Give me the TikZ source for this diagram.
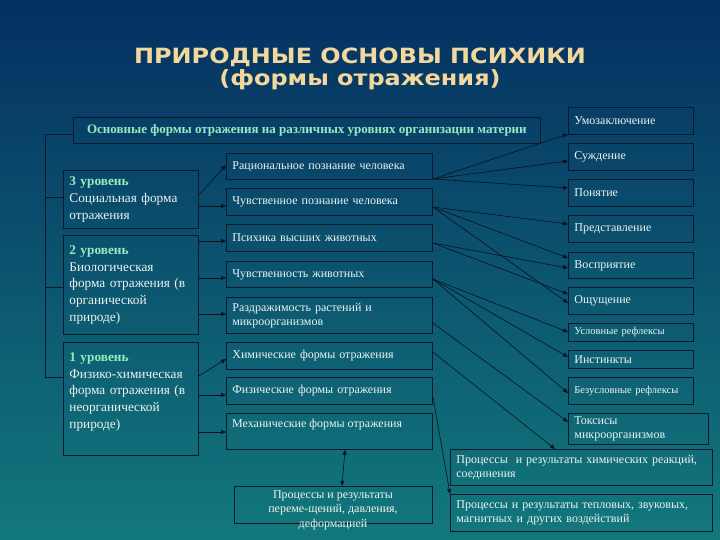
\documentclass[tikz,border=0pt]{standalone}
\usepackage{fontspec}
\setmainfont{Liberation Serif}
\newfontfamily\titlefont{DejaVu Sans}
\usetikzlibrary{arrows.meta}
\definecolor{bgtop}{RGB}{5,48,98}
\definecolor{bgmid}{RGB}{13,86,116}
\definecolor{bgbot}{RGB}{18,120,124}
\definecolor{titlec}{RGB}{242,216,156}
\definecolor{greenc}{RGB}{150,236,190}
\definecolor{txtc}{RGB}{236,244,240}
\definecolor{boxc}{RGB}{14,24,44}
\definecolor{linec}{RGB}{10,16,30}
\newcommand{\lvlhead}[1]{{\color{greenc}\bfseries #1}}
\begin{document}
\begin{tikzpicture}[x=1pt,y=-1pt,
  box/.style={draw=boxc, line width=0.8pt, anchor=north west, inner xsep=6pt, inner ysep=0pt,
    text=txtc, align=left, font=\fontsize{12}{14}\selectfont},
  mbox/.style={box, text width=194pt},
  rbox/.style={box, text width=113pt},
  lbox/.style={box, inner xsep=6pt, text width=123pt, font=\fontsize{13.3}{16.8}\selectfont},
  conn/.style={draw=linec, line width=0.6pt, -{Triangle[length=5pt,width=4pt]}},
  link/.style={draw=boxc, line width=0.8pt}]
\useasboundingbox (0,0) rectangle (720,540);
\shade[top color=bgtop, middle color=bgmid, bottom color=bgbot] (0,0) rectangle (720,540);

% title
\node[text=titlec, align=center, font=\titlefont\bfseries\fontsize{21}{22.5}\selectfont] (T) at (360,69)
  {\scalebox{1.14}[1]{ПРИРОДНЫЕ ОСНОВЫ ПСИХИКИ}\\\scalebox{1.14}[1]{(формы отражения)}};

% top box
\node[box, align=center, text=greenc, font=\bfseries\fontsize{13}{15}\selectfont,
  minimum width=467pt, minimum height=26pt] (top) at (73,117)
  {Основные формы отражения на различных уровнях организации материи};

% left boxes
\node[lbox, minimum height=58pt] (L3) at (63,170)
  {\lvlhead{3 уровень}\\Социальная форма\\отражения};
\node[lbox, minimum height=99pt] (L2) at (63,235)
  {\lvlhead{2 уровень}\\Биологическая\\форма отражения (в\\органической\\природе)};
\node[lbox, minimum height=113pt] (L1) at (63,342)
  {\lvlhead{1 уровень}\\Физико-химическая\\форма отражения (в\\неорганической\\природе)\\\mbox{}};

% middle boxes
\node[mbox, minimum height=26pt] (R) at (226,153) {Рациональное познание человека};
\node[mbox, minimum height=27pt] (Ch) at (226,188) {Чувственное познание человека};
\node[mbox, minimum height=27pt] (Ps) at (226,224) {Психика высших животных};
\node[mbox, minimum height=26pt] (CA) at (226,261) {Чувственность животных};
\node[mbox, minimum height=36pt] (Rz) at (226,297) {Раздражимость растений и\\микроорганизмов};
\node[mbox, minimum height=27pt] (Him) at (226,342) {Химические формы отражения};
\node[mbox, minimum height=27pt] (Fiz) at (226,377) {Физические формы отражения};
\node[mbox, minimum height=36pt] (Meh) at (226,413) {};
\node[anchor=west, inner sep=0pt, text=txtc, font=\fontsize{12}{14}\selectfont] (MehT) at (232,425)
  {Механические формы отражения};

% right boxes
\node[rbox, minimum height=27pt] (Um) at (568,107) {Умозаключение};
\node[rbox, minimum height=27pt] (Su) at (568,143) {Суждение};
\node[rbox, minimum height=27pt] (Po) at (568,179) {Понятие};
\node[rbox, minimum height=27pt] (Pr) at (568,215) {Представление};
\node[rbox, minimum height=26pt] (Vo) at (568,252) {Восприятие};
\node[rbox, minimum height=27pt] (Osh) at (568,287) {Ощущение};
\node[rbox, minimum height=18pt, font=\fontsize{10.5}{12}\selectfont] (Us) at (568,323) {Условные рефлексы};
\node[rbox, minimum height=18pt] (In) at (568,350) {Инстинкты};
\node[rbox, minimum height=27pt, font=\fontsize{10.5}{12}\selectfont] (Bz) at (568,377) {Безусловные рефлексы};
\node[box, text width=128pt, minimum height=31pt] (Tx) at (568,413) {Токсисы\\микроорганизмов};

% bottom boxes
\node[box, text width=250pt, minimum height=36pt] (PC) at (450,449)
  {Процессы\ \ и результаты химических реакций,\\соединения};
\node[box, text width=250pt, minimum height=37pt] (PT) at (450,494)
  {Процессы и результаты тепловых, звуковых,\\магнитных и других воздействий};
\node[box, minimum width=198pt, minimum height=37pt] (Pm) at (234,486) {};
\node[anchor=north, inner sep=0pt, align=center, text=txtc, font=\fontsize{12}{14.5}\selectfont] (PmT) at (333,490)
  {Процессы и результаты\\переме-щений, давления,\\деформацией};

% left bracket
\coordinate (bT) at (45,134);
\coordinate (b3) at (45,197);
\coordinate (b2) at (45,287);
\coordinate (b1) at (45,377);
\draw[link] (top.west |- bT) -- (bT) -- (b1) -- (L1.west |- b1);
\draw[link] (b3) -- (L3.west |- b3);
\draw[link] (b2) -- (L2.west |- b2);

% left arrows
\draw[conn] (L3.east |- 0,195) -- (R.west |- 0,165);
\draw[conn] (L3.east |- 0,206) -- (Ch.west |- 0,206);
\draw[conn] (L2.east |- 0,241) -- (Ps.west |- 0,241);
\draw[conn] (L2.east |- 0,278) -- (CA.west |- 0,278);
\draw[conn] (L2.east |- 0,314) -- (Rz.west |- 0,314);
\draw[conn] (L1.east |- 0,376) -- (Him.west |- 0,359);
\draw[conn] (L1.east |- 0,395) -- (Fiz.west |- 0,395);
\draw[conn] (L1.east |- 0,432) -- (Meh.west |- 0,432);

% middle to right
\draw[conn] (R.east |- 0,179) -- (Um.west |- 0,134);
\draw[conn] (R.east |- 0,179) -- (Su.west |- 0,161);
\draw[conn] (R.east |- 0,179) -- (Po.west |- 0,188);
\draw[conn] (Ch.east |- 0,207) -- (Pr.west |- 0,224);
\draw[conn] (Ch.east |- 0,207) -- (Vo.west |- 0,258);
\draw[conn] (Ch.east |- 0,207) -- (Osh.west |- 0,303);
\draw[conn] (Ps.east |- 0,243) -- (Vo.west |- 0,268);
\draw[conn] (Ps.east |- 0,243) -- (Osh.west |- 0,294);
\draw[conn] (CA.east |- 0,279) -- (Us.west |- 0,332);
\draw[conn] (CA.east |- 0,279) -- (In.west |- 0,357);
\draw[conn] (CA.east |- 0,279) -- (Bz.west |- 0,393);
\draw[conn] (Rz.east |- 0,323) -- (Tx.west |- 0,422);
\draw[conn] (Him.east |- 0,352) -- (PC.north -| 555,0);
\draw[conn] (Fiz.east |- 0,396) -- (PT.north west);
\draw[conn, {Triangle[length=5pt,width=4pt]}-{Triangle[length=5pt,width=4pt]}] (Meh.south -| 345,0) -- (Pm.north -| 342,0);
\end{tikzpicture}
\end{document}
